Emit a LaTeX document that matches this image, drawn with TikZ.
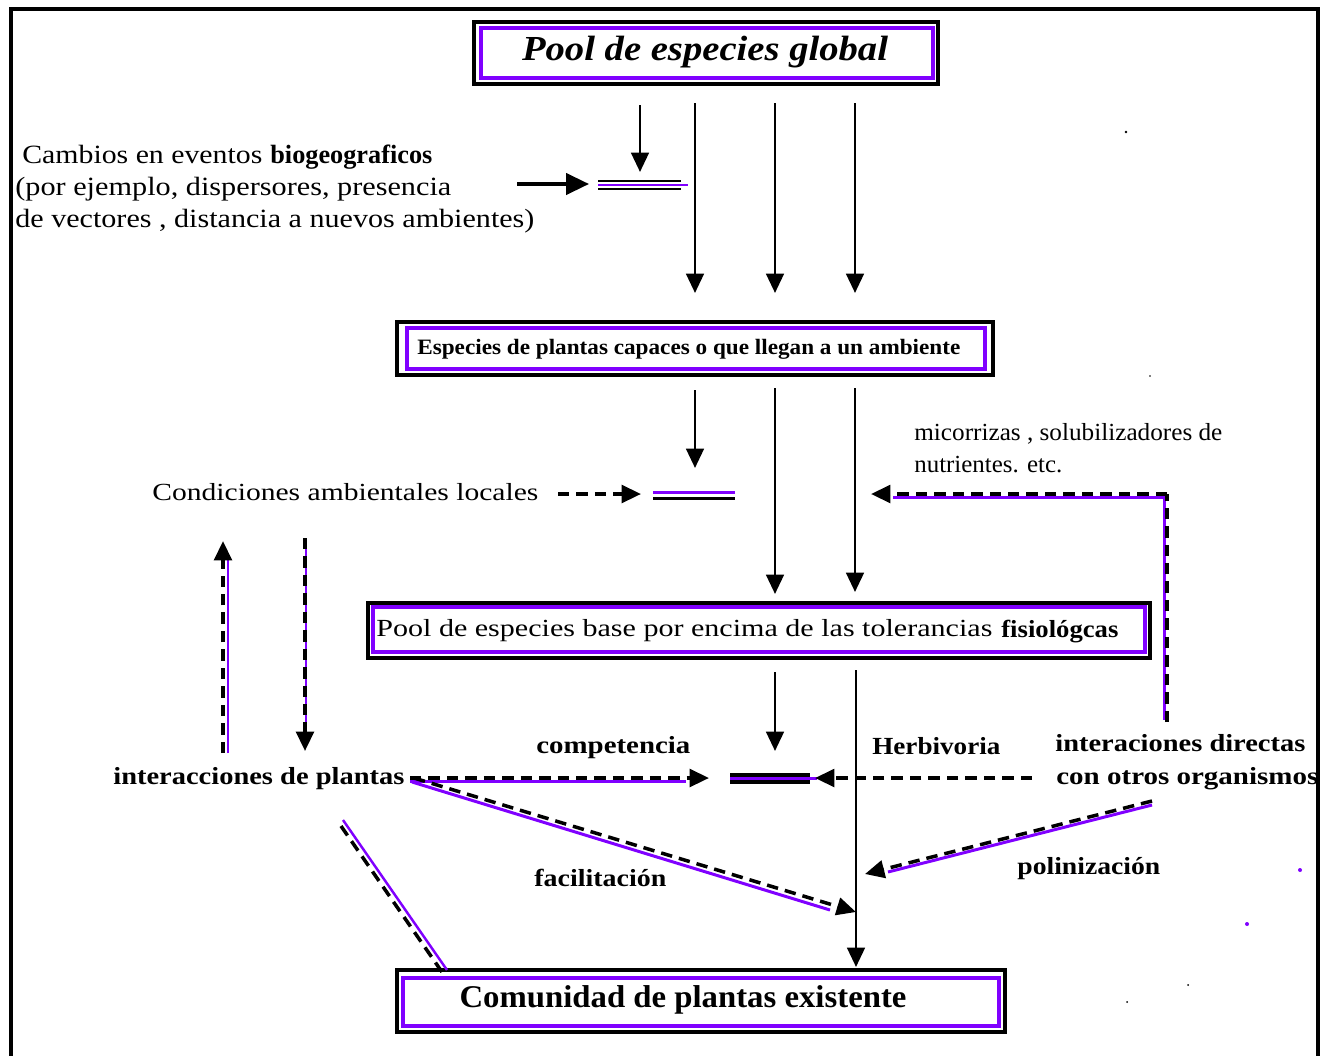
\documentclass[tikz,border=0pt]{standalone}
\usepackage{fontspec}
\setmainfont{Liberation Serif}
\usetikzlibrary{arrows.meta,calc}
\newlength\pxu \setlength\pxu{0.02cm}
\newcommand\fitw[2]{\resizebox{#1\pxu}{\height}{#2}}
\definecolor{vio}{HTML}{8000FF}
\begin{document}
\begin{tikzpicture}[x=0.02cm,y=-0.02cm,
  lab/.style={inner sep=0pt, anchor=base west},
  ctr/.style={inner sep=0pt, anchor=base},
  outerbox/.style={draw=black, line width=2.2pt, inner sep=0pt},
  innerbox/.style={draw=vio, line width=1.8pt},
  tip/.style={-{Triangle[length=11pt,width=10pt]}},
  arr/.style={line width=1.6pt, tip},
  dsh/.style={line width=2pt, dash pattern=on 6.5pt off 4pt},
  vl/.style={draw=vio, line width=1.7pt},
  barb/.style={line width=1.7pt},
  tx/.style={font=\fontsize{14}{16}\selectfont},
  txb/.style={font=\fontsize{14}{16}\selectfont\bfseries},
]
\useasboundingbox (0,0) rectangle (1324,1055);
\fill[white] (0,0) rectangle (1324,1055);

% ---- boxes ----
\node[outerbox, minimum width=464\pxu, minimum height=62\pxu] (pool) at (706,53) {};
\draw[innerbox] (481,28) rectangle (933,78);
\node[ctr, font=\fontsize{20}{24}\selectfont\bfseries\itshape] (poolt) at (705,60) {\fitw{366}{Pool de especies global}};

\node[outerbox, minimum width=596\pxu, minimum height=53\pxu] (esp) at (695,348.5) {};
\draw[innerbox] (407,328) rectangle (985,369);
\node[lab, font=\fontsize{12.5}{14}\selectfont\bfseries] (espt) at (417,354) {\fitw{543}{Especies de plantas capaces o que llegan a un ambiente}};

\node[outerbox, minimum width=782\pxu, minimum height=55\pxu] (base) at (759,630.5) {};
\draw[innerbox] (373,607) rectangle (1145,652);
\node[lab, font=\fontsize{14}{16}\selectfont] (baset) at (376,636) {\fitw{616}{Pool de especies base por encima de las tolerancias}};
\node[lab, font=\fontsize{14}{16}\selectfont\bfseries] (basef) at (1001,637) {\fitw{117}{fisiológcas}};

\node[outerbox, minimum width=608\pxu, minimum height=62\pxu] (com) at (701,1001) {};
\draw[innerbox] (403,978) rectangle (999,1026);
\node[ctr, font=\fontsize{18}{20}\selectfont\bfseries] (comt) at (683,1007) {\fitw{447}{Comunidad de plantas existente}};

% ---- text labels ----
\node[lab, font=\fontsize{15}{17}\selectfont] (c1) at (22,163) {\fitw{240}{Cambios en eventos}};
\node[lab, font=\fontsize{15}{17}\selectfont\bfseries] (c1b) at (270,163) {\fitw{162}{biogeograficos}};
\node[lab, font=\fontsize{15}{17}\selectfont] (c2) at (15,195) {\fitw{436}{(por ejemplo, dispersores, presencia}};
\node[lab, font=\fontsize{15}{17}\selectfont] (c3) at (15,227) {\fitw{519}{de vectores , distancia a nuevos ambientes)}};

\node[lab, tx] (cond) at (152,500) {\fitw{386}{Condiciones ambientales locales}};
\node[lab, tx] (mic1) at (914,440) {\fitw{308}{micorrizas , solubilizadores de}};
\node[lab, tx] (mic2) at (914,472) {\fitw{148}{nutrientes. etc.}};
\node[lab, txb] (inter) at (113,784) {\fitw{291}{interacciones de plantas}};
\node[lab, txb] (compt) at (536,753) {\fitw{154}{competencia}};
\node[lab, txb] (herb) at (872,754) {\fitw{128}{Herbivoria}};
\node[lab, txb] (dir1) at (1055,751) {\fitw{250}{interaciones directas}};
\node[lab, txb] (dir2) at (1056,784) {\fitw{262}{con otros organismos}};
\node[lab, txb] (facil) at (534,886) {\fitw{132}{facilitación}};
\node[lab, txb] (polin) at (1017,874) {\fitw{143}{polinización}};

% ---- solid arrows from top box ----
\draw[arr] (640,105) -- (640,172);
\draw[arr] (695,103) -- (695,293);
\draw[arr] (775,103) -- (775,293);
\draw[arr] (855,103) -- (855,293);
\draw[arr, line width=2pt, -{Triangle[length=13pt,width=12pt]}] (517,184) -- (589,184);
% bar 1
\draw[barb] (598,181) -- (681,181);
\draw[barb] (598,189) -- (681,189);
\draw[vl] (598,185) -- (688,185);

% ---- arrows from box 2 ----
\draw[arr] (695,390) -- (695,468);
\draw[arr] (775,388) -- (775,594);
\draw[arr] (855,388) -- (855,592);
\draw[dsh, tip] (558,494) -- (641,494);
% bar 2
\draw[barb] (653,492) -- (735,492);
\draw[barb] (653,498) -- (735,498);
\draw[vl, line width=1.4pt] (653,492.5) -- (735,492.5);

% micorrizas feedback
\draw[vl] (893,497) -- (1164,497) -- (1164,720);
\draw[dsh] (1167,722) -- (1167,494);
\draw[dsh, tip] (1167,494) -- (871,494);

% left vertical arrows
\draw[vl] (228,753) -- (228,558);
\draw[dsh, tip] (223,753) -- (223,541);
\draw[vl] (306,538) -- (306,732);
\draw[dsh, tip] (305,538) -- (305,751);

% competencia
\draw[vl] (410,781) -- (686,781);
\draw[dsh, tip] (410,778) -- (709,778);
% bar 3
\draw[line width=2.2pt] (730,775) -- (810,775);
\draw[line width=2.2pt] (730,782) -- (810,782);
\draw[vl] (730,778.5) -- (817,778.5);
% herbivoria
\draw[dsh, tip] (1032,778) -- (815,778);

% box 3 arrows
\draw[arr] (775,672) -- (775,751);
\draw[arr] (856,670) -- (856,967);

% facilitacion
\draw[vl] (412,782) -- (830,910);
\draw[dsh, tip] (414,778) -- (856,912);
% polinizacion
\draw[vl] (1152,805) -- (888,872);
\draw[dsh, tip] (1152,801) -- (865,874);
% left diagonal
\draw[vl, line width=1.4pt] (343,820) -- (447,970);
\draw[dsh] (341,826) -- (442,972);

% stray dots
\fill (1126,132) circle (1.3);
\fill (1150,376) circle (0.8);
\fill[vio] (1300,870) circle (2);
\fill[vio] (1247,924) circle (2);
\fill (1188,985) circle (1);
\fill (1127,1002) circle (1);

% frame
\draw[line width=2.4pt] (11,1075) -- (11,9) -- (1318,9) -- (1318,1075);
\end{tikzpicture}
\end{document}
